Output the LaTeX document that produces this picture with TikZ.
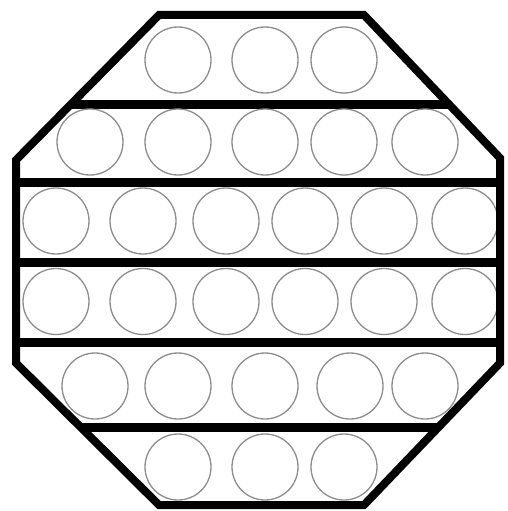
\documentclass[tikz,border=0pt]{standalone}
\begin{document}
\begin{tikzpicture}[x=1pt,y=-1pt,
  wall/.style={line width=8pt,line join=miter,draw=black},
  bar/.style={line width=9pt,draw=black},
  tube/.style={draw=black!45,line width=1.3pt}]
\useasboundingbox (0,0) rectangle (508,511);
% bars
\draw[bar] (71,104) -- (449,104);
\draw[bar] (16,182) -- (500,182);
\draw[bar] (16,262) -- (500,262);
\draw[bar] (16,342) -- (500,342);
\draw[bar] (81,427) -- (439,427);
% circles
\foreach \x in {178,265,344} \draw[tube] (\x,60) circle (33);
\foreach \x in {90,178,265,344,425} \draw[tube] (\x,142) circle (33);
\foreach \x in {56,143,226,305,384,465} \draw[tube] (\x,221) circle (33);
\foreach \x in {56,143,226,305,384,465} \draw[tube] (\x,301.5) circle (33);
\foreach \x in {95,178,265,350,425} \draw[tube] (\x,386) circle (33);
\foreach \x in {178,265,344} \draw[tube] (\x,467) circle (33);
% octagon
\draw[wall] (159,15) -- (364,15) -- (500,158) -- (500,363) -- (364,505) -- (159,505) -- (16,363) -- (16,160) -- cycle;
\end{tikzpicture}
\end{document}
